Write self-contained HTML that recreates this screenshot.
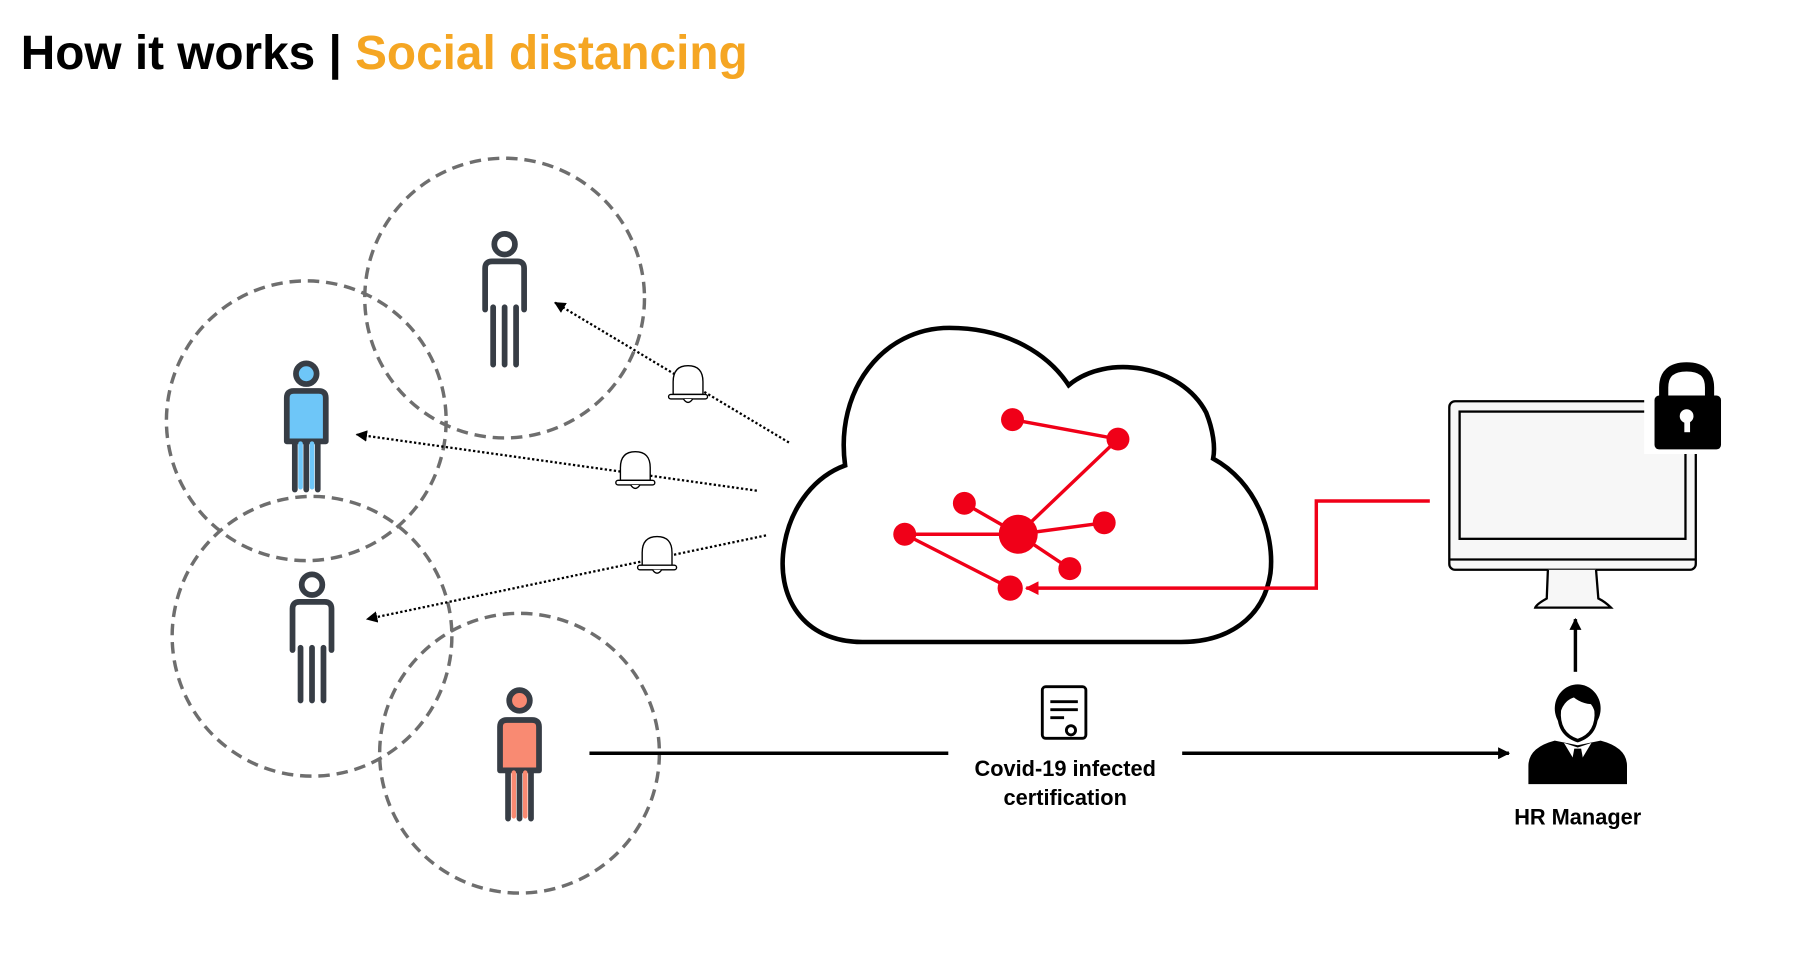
<!DOCTYPE html>
<html><head><meta charset="utf-8"><style>html,body{margin:0;padding:0;background:#fff}svg{display:block}</style></head>
<body>
<svg width="1798" height="955" viewBox="0 0 1568 833" xmlns="http://www.w3.org/2000/svg" font-family="Liberation Sans, Arial, sans-serif">
<defs>
<marker id="ah" viewBox="0 0 10 10" refX="9" refY="5" markerWidth="5" markerHeight="5" orient="auto"><path d="M0,0L10,5L0,10z" fill="#000"/></marker>
<marker id="ah3" viewBox="0 0 10 10" refX="9" refY="5" markerWidth="3.5" markerHeight="3.5" orient="auto"><path d="M0,0L10,5L0,10z" fill="#000"/></marker>
<marker id="ahr" viewBox="0 0 10 10" refX="9" refY="5" markerWidth="4" markerHeight="4" orient="auto"><path d="M0,0L10,5L0,10z" fill="#f00018"/></marker>
</defs>
<rect width="1568" height="833" fill="#fff"/>
<text x="18" y="60" font-size="42" font-weight="bold" textLength="634" lengthAdjust="spacingAndGlyphs"><tspan fill="#000">How it works | </tspan><tspan fill="#f5a623">Social distancing</tspan></text>

<g fill="none" stroke="#6e6e6e" stroke-width="3" stroke-dasharray="10 6">
<circle cx="440" cy="260" r="122"/>
<circle cx="267" cy="367" r="122"/>
<circle cx="272" cy="555" r="122"/>
<circle cx="453" cy="657" r="122"/>
</g>

<g stroke="#373d45" stroke-linecap="round" stroke-linejoin="round" fill="none">
<g transform="translate(440,200)"><circle cx="0" cy="13" r="9" stroke-width="5" fill="#fff"/><path d="M-17,70 L-17,34 Q-17,28 -11,28 L11,28 Q17,28 17,34 L17,70" stroke-width="5"/><path d="M-10,68 V118 M0,68 V118 M10,68 V118" stroke-width="5"/></g>
<g transform="translate(267,313)"><circle cx="0" cy="13" r="9" stroke-width="5" fill="#6ec6f8"/><path d="M-17,72 L-17,34 Q-17,28 -11,28 L11,28 Q17,28 17,34 L17,72 Z" stroke-width="5" fill="#6ec6f8"/><path d="M-10,72 V114 M0,72 V114 M10,72 V114" stroke-width="5"/><path d="M-5,74 V112 M5,74 V112" stroke="#6ec6f8" stroke-width="4"/></g>
<g transform="translate(272,497)"><circle cx="0" cy="13" r="9" stroke-width="5" fill="#fff"/><path d="M-17,70 L-17,34 Q-17,28 -11,28 L11,28 Q17,28 17,34 L17,70" stroke-width="5"/><path d="M-10,68 V114 M0,68 V114 M10,68 V114" stroke-width="5"/></g>
<g transform="translate(453,600)"><circle cx="0" cy="11" r="9" stroke-width="5" fill="#f98a72"/><path d="M-17,72 L-17,34 Q-17,28 -11,28 L11,28 Q17,28 17,34 L17,72 Z" stroke-width="5" fill="#f98a72"/><path d="M-10,72 V114 M0,72 V114 M10,72 V114" stroke-width="5"/><path d="M-5,74 V112 M5,74 V112" stroke="#f98a72" stroke-width="4"/></g>
</g>

<g stroke="#000" stroke-width="2" stroke-dasharray="2 2" fill="none">
<path d="M688,386 L484,264" marker-end="url(#ah)"/>
<path d="M660,428 L311,379" marker-end="url(#ah)"/>
<path d="M668,467 L320,540" marker-end="url(#ah)"/>
</g>
<g fill="#fff" stroke="#000" stroke-width="1.2">
<g transform="translate(600,335)"><path d="M-13,9 L-13,-2 Q-13,-16 0,-16 Q13,-16 13,-2 L13,9 Z"/><rect x="-17" y="9" width="34" height="4" rx="2"/><path d="M-4,13 Q0,19 4,13"/></g>
<g transform="translate(554,410)"><path d="M-13,9 L-13,-2 Q-13,-16 0,-16 Q13,-16 13,-2 L13,9 Z"/><rect x="-17" y="9" width="34" height="4" rx="2"/><path d="M-4,13 Q0,19 4,13"/></g>
<g transform="translate(573,484)"><path d="M-13,9 L-13,-2 Q-13,-16 0,-16 Q13,-16 13,-2 L13,9 Z"/><rect x="-17" y="9" width="34" height="4" rx="2"/><path d="M-4,13 Q0,19 4,13"/></g>
</g>

<path d="M752,560 C700,560 676,520 684,475 C690,440 712,415 737,406 C728,340 770,286 828,286 C880,286 915,310 932,336 C965,308 1030,318 1052,360 C1058,375 1060,390 1058,400 C1095,420 1112,465 1108,500 C1102,540 1070,560 1030,560 Z" fill="#fff" stroke="#000" stroke-width="4"/>

<g stroke="#f00018" stroke-width="3" fill="none">
<path d="M883,366 L975,383 L888,466 M841,439 L888,466 M789,466 L888,466 L963,456 M888,466 L933,496 M789,466 L881,513"/>
<path d="M1247,437 H1148 V513 H895" marker-end="url(#ahr)"/>
</g>
<g fill="#f00018">
<circle cx="883" cy="366" r="10"/><circle cx="975" cy="383" r="10"/><circle cx="841" cy="439" r="10"/>
<circle cx="888" cy="466" r="17"/><circle cx="963" cy="456" r="10"/><circle cx="789" cy="466" r="10"/>
<circle cx="933" cy="496" r="10"/><circle cx="881" cy="513" r="11"/>
</g>

<rect x="1264" y="350" width="215" height="147" rx="5" fill="#f7f7f7" stroke="#000" stroke-width="2"/>
<rect x="1273" y="359" width="197" height="111" fill="#f7f7f7" stroke="#000" stroke-width="2"/>
<line x1="1264" y1="488" x2="1479" y2="488" stroke="#000" stroke-width="2"/>
<path d="M1350,497 L1349,522 Q1340,527 1339,530 L1405,530 Q1400,525 1394,522 L1392,497" fill="#f7f7f7" stroke="#000" stroke-width="2"/>
<rect x="1434" y="312" width="72" height="84" fill="#fff"/>
<path d="M1451,348 V338 Q1451,320 1471,320 Q1491,320 1491,338 V348" fill="none" stroke="#000" stroke-width="8"/>
<rect x="1443" y="345" width="58" height="47" rx="4" fill="#000"/>
<circle cx="1471" cy="363" r="6" fill="#fff"/><rect x="1469" y="363" width="5" height="14" fill="#fff"/>

<line x1="1374" y1="586" x2="1374" y2="540" stroke="#000" stroke-width="3" marker-end="url(#ah3)"/>

<g fill="#000">
<path d="M1333,684 L1333,668 Q1333,652 1356,646 L1376,650 L1396,646 Q1419,652 1419,668 L1419,684 Z"/>
<ellipse cx="1376" cy="618" rx="20" ry="21"/>
<ellipse cx="1376" cy="628" rx="16" ry="20" fill="#fff"/>
<path d="M1358,612 Q1362,598 1376,598 Q1392,598 1395,614 Q1380,616 1370,606 Q1365,614 1358,618 Z"/>
<path d="M1360,619 Q1358,640 1376,646 Q1394,640 1392,619" fill="none" stroke="#000" stroke-width="3"/>
<path d="M1364,648 L1376,668 L1388,648 L1376,652 Z" fill="#fff"/>
<path d="M1373,653 L1379,653 L1381,664 L1376,669 L1371,664 Z"/>
</g>
<text x="1376" y="719" font-size="19" font-weight="bold" text-anchor="middle">HR Manager</text>

<line x1="514" y1="657" x2="827" y2="657" stroke="#000" stroke-width="3"/>
<line x1="1031" y1="657" x2="1316" y2="657" stroke="#000" stroke-width="3" marker-end="url(#ah3)"/>
<g fill="none" stroke="#000" stroke-width="2.5">
<rect x="909" y="599" width="38" height="45" rx="3"/>
<path d="M916,612 H940 M916,619 H940 M916,626 H928"/>
<circle cx="934" cy="637" r="4" fill="#fff"/>
</g>
<text x="929" y="677" font-size="19" font-weight="bold" text-anchor="middle">Covid-19 infected</text>
<text x="929" y="702" font-size="19" font-weight="bold" text-anchor="middle">certification</text>
</svg>
</body></html>
